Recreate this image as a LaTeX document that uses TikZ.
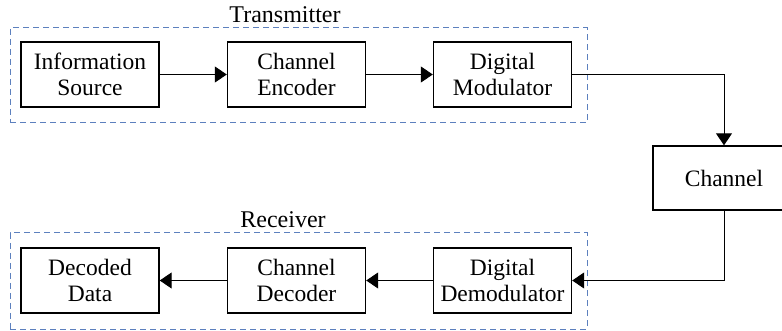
\documentclass[tikz,border=0pt]{standalone}
\usepackage{fontspec}
\setmainfont{Liberation Serif}
\usetikzlibrary{arrows.meta}
\definecolor{dashblue}{RGB}{92,128,190}
\begin{document}
\begin{tikzpicture}[x=1pt,y=-1pt,
  blk/.style={draw=black,line width=1.4pt,minimum width=138pt,minimum height=65pt,inner sep=0pt,align=center,font=\fontsize{23.5}{26}\selectfont},
  grp/.style={draw=dashblue,line width=1pt,dash pattern=on 6pt off 4pt,inner sep=0pt},
  lbl/.style={font=\fontsize{24}{26}\selectfont,inner sep=0pt},
  conn/.style={line width=1pt,-{Triangle[length=12pt,width=16pt]}}]
\useasboundingbox (0,0) rectangle (782,331);
\clip (0,0) rectangle (782,331);
% groups
\node[grp,minimum width=577pt,minimum height=95pt] (tx) at (298.5,75.5) {};
\node[lbl] (txl) at (285,15) {Transmitter};
\node[grp,minimum width=577pt,minimum height=96pt] (rx) at (298.5,281) {};
\node[lbl] (rxl) at (283,220) {Receiver};
% blocks
\node[blk] (src) at (90,74.5) {Information\\Source};
\node[blk] (enc) at (296.5,74.5) {Channel\\Encoder};
\node[blk] (mod) at (502.5,74.5) {Digital\\Modulator};
\node[blk,minimum width=142pt,minimum height=64pt] (chan) at (724,178) {Channel};
\node[blk] (demod) at (502.5,280.5) {Digital\\Demodulator};
\node[blk] (dec) at (296.5,280.5) {Channel\\Decoder};
\node[blk] (data) at (90,280.5) {Decoded\\Data};
% connectors
\draw[conn] (src) -- (enc);
\draw[conn] (enc) -- (mod);
\draw[conn] (mod.east) -| (chan.north);
\draw[conn] (chan.south) |- (demod.east);
\draw[conn] (demod) -- (dec);
\draw[conn] (dec) -- (data);
\end{tikzpicture}
\end{document}
